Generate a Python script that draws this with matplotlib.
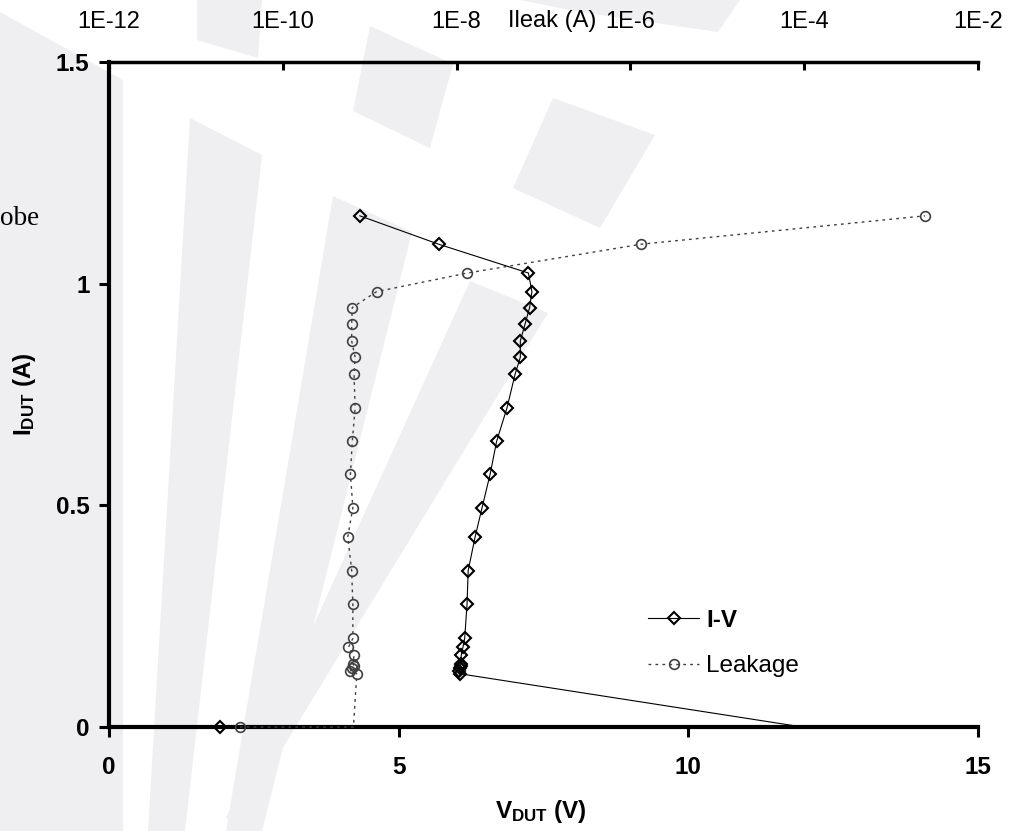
import matplotlib
matplotlib.use("Agg")
import matplotlib.pyplot as plt
from matplotlib.patches import Polygon
from matplotlib.lines import Line2D
from matplotlib.ticker import FixedLocator, NullLocator
import numpy as np

plt.rcParams['font.family'] = ['Liberation Sans', 'DejaVu Sans']
plt.rcParams['mathtext.fontset'] = 'custom'
plt.rcParams['mathtext.rm'] = 'Liberation Sans'
plt.rcParams['mathtext.bf'] = 'Liberation Sans:bold'
plt.rcParams['mathtext.it'] = 'Liberation Sans:italic'

# ---------------- data ----------------
i_dut = [0, 0, 0.120, 0.126, 0.132, 0.138, 0.143, 0.162, 0.180, 0.200, 0.277,
         0.353, 0.429, 0.495, 0.571, 0.644, 0.720, 0.796, 0.834, 0.871, 0.908,
         0.946, 0.982, 1.024, 1.089, 1.153]
v_dut = [1.91, 11.97, 6.06, 6.05, 6.06, 6.07, 6.07, 6.08, 6.11, 6.14, 6.18,
         6.20, 6.32, 6.44, 6.58, 6.69, 6.87, 7.01, 7.10, 7.10, 7.18, 7.26,
         7.30, 7.24, 5.69, 4.33]
i_leak = [3.2e-11, 6.5e-10, 7.1e-10, 6.0e-10, 6.25e-10, 6.6e-10, 6.4e-10,
          6.6e-10, 5.7e-10, 6.4e-10, 6.4e-10, 6.2e-10, 5.6e-10, 6.4e-10,
          6.0e-10, 6.3e-10, 6.8e-10, 6.6e-10, 6.8e-10, 6.2e-10, 6.2e-10,
          6.3e-10, 1.2e-9, 1.33e-8, 1.33e-6, 2.45e-3]
marked = [k for k in range(len(i_dut)) if k != 1]

v_ticks = [0, 5, 10, 15]
v_ticklabels = ['0', '5', '10', '15']
i_ticks = [0, 0.5, 1, 1.5]
i_ticklabels = ['0', '0.5', '1', '1.5']
leak_ticks = [1e-12, 1e-10, 1e-8, 1e-6, 1e-4, 1e-2]
leak_ticklabels = ['1E-12', '1E-10', '1E-8', '1E-6', '1E-4', '1E-2']

W, H = 1021, 831
fig = plt.figure(figsize=(W / 100, H / 100), dpi=100)
fig.patch.set_facecolor('white')

# ---------------- faint background watermark ----------------
wm_color = '#efeff2'
wm_shapes = [
    [(0, 12), (123, 80), (123, 831), (0, 831)],
    [(190, 118), (262, 155), (185, 831), (148, 831)],
    [(333, 196), (412, 232), (262, 831), (226, 831)],
    [(470, 281), (548, 313), (240, 818), (226, 818)],
    [(197, 0), (262, 0), (258, 58), (197, 40)],
    [(370, 26), (453, 64), (430, 148), (353, 111)],
    [(520, 0), (740, 0), (718, 32), (580, 12)],
    [(553, 98), (655, 135), (600, 228), (513, 188)],
]
for pts in wm_shapes:
    arr = np.array(pts, dtype=float)
    arr[:, 0] /= W
    arr[:, 1] = 1 - arr[:, 1] / H
    fig.add_artist(Polygon(arr, closed=True, transform=fig.transFigure,
                           facecolor=wm_color, edgecolor='none', zorder=-5))

fig.text(0.0, 1 - 225 / H, 'obe', family='Liberation Serif', fontsize=19.5,
         ha='left', va='baseline', color='black')

# ---------------- axes ----------------
left, right = 109 / W, 978 / W
bottom, top = 1 - 727 / H, 1 - 62 / H
ax = fig.add_axes([left, bottom, right - left, top - bottom])
ax.set_facecolor('none')
ax.set_xlim(0, 15)
ax.set_ylim(0, 1.5)

ax.plot(v_dut, i_dut, color='black', lw=0.8, marker='D', ms=6.0,
        mfc='none', mec='black', mew=1.5, markevery=marked,
        clip_on=False, zorder=4)

ax.set_xticks(v_ticks)
ax.set_xticklabels(v_ticklabels, fontsize=17.5, fontweight='bold')
ax.set_yticks(i_ticks)
ax.set_yticklabels(i_ticklabels, fontsize=17.5, fontweight='bold')
ax.tick_params(axis='x', direction='out', length=7, width=2.2, pad=14)
ax.tick_params(axis='y', direction='out', length=7, width=2.2, pad=7)
for s in ['left', 'bottom']:
    ax.spines[s].set_linewidth(3)
for s in ['top', 'right']:
    ax.spines[s].set_visible(False)

ax.set_xlabel(r'V$_{\mathbf{DUT}}$ (V)', fontsize=17.5, fontweight='bold',
              va='top')
ax.xaxis.set_label_coords((541 - 109) / 869, -(798 - 727) / 665)
ax.set_ylabel(r'I$_{\mathbf{DUT}}$ (A)', fontsize=17.5, fontweight='bold')
ax.yaxis.set_label_coords((38 - 109) / 869, 0.5)

# secondary (top) log axis for leakage current
ax2 = ax.twiny()
ax2.set_xscale('log')
ax2.set_xlim(1e-12, 1e-2)
ax2.plot(i_leak, i_dut, color='#404040', lw=1.0, ls=(0, (2, 3)), marker='o',
         ms=7.0, mfc='none', mec='#404040', mew=1.2, markevery=marked,
         clip_on=False, zorder=4)
ax2.xaxis.set_major_locator(FixedLocator(leak_ticks))
ax2.xaxis.set_minor_locator(NullLocator())
ax2.set_xticklabels(leak_ticklabels, fontsize=17)
ax2.tick_params(axis='x', direction='in', length=6, width=2.2, pad=21)
ax2.spines['top'].set_linewidth(2.5)
for s in ['left', 'right', 'bottom']:
    ax2.spines[s].set_visible(False)
fig.text(552 / W, 1 - 20.5 / H, 'Ileak (A)', fontsize=17, ha='center',
         va='center')

# ---------------- legend ----------------
handles = [
    Line2D([], [], color='black', lw=0.8, marker='D', ms=6.0, mfc='none',
           mec='black', mew=1.5),
    Line2D([], [], color='#404040', lw=1.0, ls=(0, (2, 3)), marker='o',
           ms=7.0, mfc='none', mec='#404040', mew=1.2),
]
leg = ax2.legend(handles, ['I-V', 'Leakage'], loc='upper left',
                 bbox_to_anchor=((648 - 109) / 869, (727 - 609) / 665),
                 frameon=False, fontsize=17.5, handlelength=2.1,
                 handletextpad=0.3, labelspacing=0.95, borderpad=0,
                 borderaxespad=0)
leg.get_texts()[0].set_fontweight('bold')

fig.savefig('out.png', dpi=100, facecolor='white')
